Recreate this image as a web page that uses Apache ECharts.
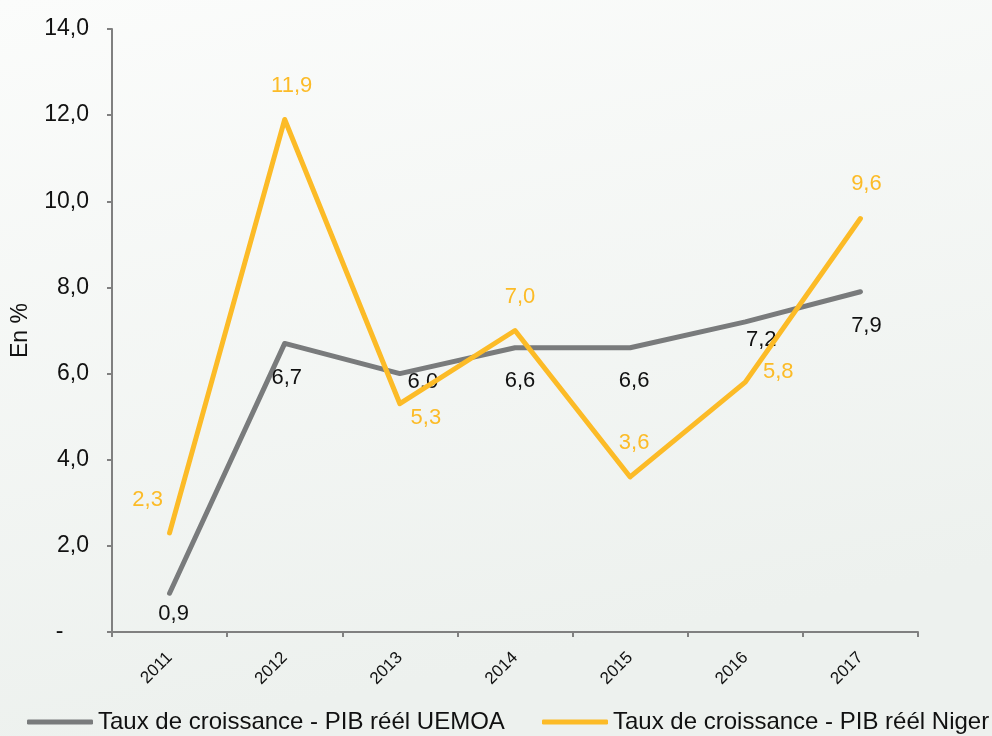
<!DOCTYPE html>
<html>
<head>
<meta charset="utf-8">
<script src="https://cdn.jsdelivr.net/npm/echarts@6/dist/echarts.min.js"></script>
<style>
html,body{margin:0;padding:0;}
#c{width:992px;height:736px;}
</style>
</head>
<body>
<div id="c"></div>
<script>
const categories = ['2011','2012','2013','2014','2015','2016','2017'];
const uemoa = [0.9, 6.7, 6.0, 6.6, 6.6, 7.2, 7.9];
const niger = [2.3, 11.9, 5.3, 7.0, 3.6, 5.8, 9.6];
const seriesNames = ['Taux de croissance - PIB réél UEMOA', 'Taux de croissance - PIB réél Niger'];
const yAxisName = 'En %';

// label placement (pixel offsets from the point)
const uemoaLabelOffsets = [[4,21],[2,35],[23,8],[5,33],[4,33],[16,18],[6,34]];
const nigerLabelOffsets = [[-22,-33],[7,-34],[26,14],[5,-34],[4,-34],[33,-10],[6,-35]];

const GRAY = '#797b7c';
const YELLOW = '#fcbb27';
const FONT = '"Liberation Sans", Arial, Helvetica, sans-serif';

function fmt(v){ return v.toFixed(1).replace('.', ','); }

function buildData(vals, offs){
  return vals.map((v,i)=>({value:v, label:{offset:offs[i]}}));
}

const legendBase = {
  top:710, width:600, padding:0,
  itemWidth:66, itemHeight:5,
  icon:'roundRect',
  textStyle:{fontSize:24, color:'#111', fontFamily:FONT}
};

const chart = echarts.init(document.getElementById('c'));
chart.setOption({
  backgroundColor: {
    type:'linear', x:0, y:0, x2:0.15, y2:1,
    colorStops:[{offset:0,color:'#fbfcfb'},{offset:1,color:'#edf1ee'}]
  },
  animation:false,
  textStyle:{fontFamily:FONT},
  grid:{left:112, right:74, top:29, bottom:104},
  legend:[
    Object.assign({}, legendBase, {left:27, data:[seriesNames[0]]}),
    Object.assign({}, legendBase, {left:542, data:[seriesNames[1]]})
  ],
  xAxis:{
    type:'category',
    data:categories,
    boundaryGap:true,
    axisLine:{lineStyle:{color:'#808080', width:2}},
    axisTick:{show:true, length:5, lineStyle:{color:'#808080', width:2}},
    axisLabel:{rotate:45, fontSize:17, color:'#111', margin:23, fontFamily:FONT}
  },
  yAxis:{
    type:'value',
    min:0, max:14, interval:2,
    name:yAxisName,
    nameLocation:'middle',
    nameGap:80,
    nameRotate:90,
    nameTextStyle:{fontSize:23, color:'#111', fontFamily:FONT},
    axisLine:{show:true, lineStyle:{color:'#808080', width:2}},
    axisTick:{show:true, length:5, lineStyle:{color:'#808080', width:2}},
    splitLine:{show:false},
    axisLabel:{
      fontSize:23, color:'#111', margin:23, fontFamily:FONT,
      formatter:function(v){ return v===0 ? '-    ' : fmt(v); }
    }
  },
  series:[
    {
      name:seriesNames[0], type:'line',
      data:buildData(uemoa, uemoaLabelOffsets),
      symbol:'circle', symbolSize:2,
      itemStyle:{color:GRAY},
      lineStyle:{color:GRAY, width:5, cap:'round', join:'round'},
      label:{show:true, position:'inside', color:'#111', fontSize:22, fontFamily:FONT,
        formatter:p=>fmt(p.value)},
      z:2
    },
    {
      name:seriesNames[1], type:'line',
      data:buildData(niger, nigerLabelOffsets),
      symbol:'circle', symbolSize:2,
      itemStyle:{color:YELLOW},
      lineStyle:{color:YELLOW, width:5, cap:'round', join:'round'},
      label:{show:true, position:'inside', color:YELLOW, fontSize:22, fontFamily:FONT,
        formatter:p=>fmt(p.value)},
      z:3
    }
  ]
});
</script>
</body>
</html>
